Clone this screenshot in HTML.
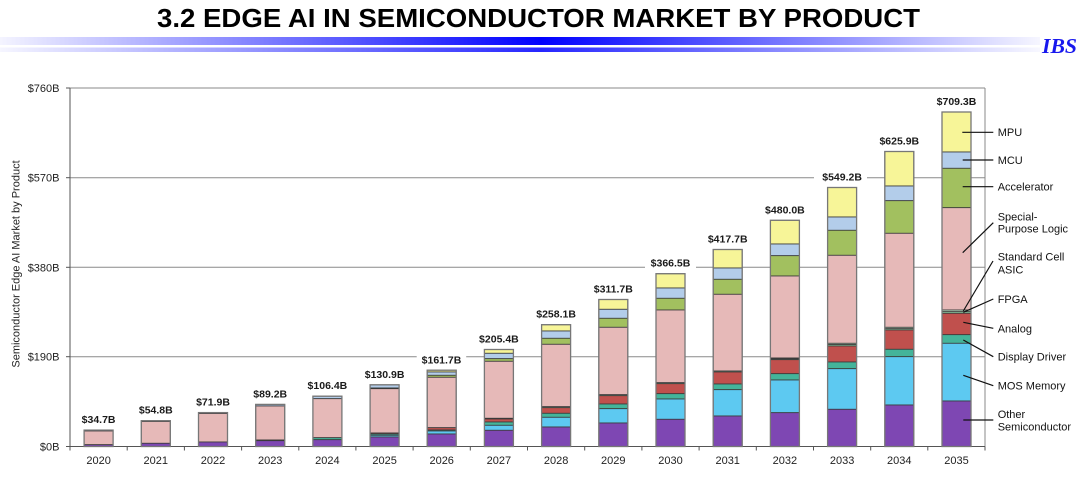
<!DOCTYPE html>
<html><head><meta charset="utf-8"><style>
html,body{margin:0;padding:0;background:#fff;}
svg{display:block;}
.o{fill:#7E47B3}.m{fill:#5DC9F1}.d{fill:#44B49A}.a{fill:#C0504D}.f{fill:#8ED1A4}.s{fill:#C4E3C8}.p{fill:#E6B9B8}.c{fill:#A2C05F}.u{fill:#B3CDEA}.x{fill:#F7F598}
.bars rect{stroke:#3a3a3a;stroke-width:0.8}
.outl rect{fill:none;stroke:#777;stroke-width:1.3}
.yl{font-family:"Liberation Sans",Arial,sans-serif;font-size:11px;fill:#222;text-anchor:end}
.xl{font-family:"Liberation Sans",Arial,sans-serif;font-size:11px;fill:#222;text-anchor:middle}
.vl{font-family:"Liberation Sans",Arial,sans-serif;font-size:10.5px;font-weight:bold;fill:#1a1a1a;text-anchor:middle}
.lg{font-family:"Liberation Sans",Arial,sans-serif;font-size:11px;fill:#111}
</style></head><body>
<svg width="1080" height="481" viewBox="0 0 1080 481" xmlns="http://www.w3.org/2000/svg">
<defs>
<linearGradient id="gb" x1="0" x2="1040" y1="0" y2="0" gradientUnits="userSpaceOnUse">
<stop offset="0" stop-color="#f4f4ff"/>
<stop offset="0.52" stop-color="#0000ff"/>
<stop offset="1" stop-color="#f6f6ff"/>
</linearGradient>
</defs>
<rect width="1080" height="481" fill="#fff"/>
<text x="157" y="27" font-family="'Liberation Sans',Arial,sans-serif" font-weight="bold" font-size="26" fill="#000" textLength="763" lengthAdjust="spacingAndGlyphs">3.2  EDGE AI IN SEMICONDUCTOR MARKET BY PRODUCT</text>
<rect x="0" y="37" width="1040" height="8" fill="url(#gb)"/>
<rect x="0" y="47.5" width="1040" height="4.5" fill="url(#gb)" opacity="0.85"/>
<text x="1042" y="53" font-family="'Liberation Serif','Times New Roman',serif" font-weight="bold" font-style="italic" font-size="21" fill="#1818ee" textLength="35" lengthAdjust="spacingAndGlyphs">IBS</text>

<!-- grid -->
<g stroke="#8a8a8a" stroke-width="1">
<line x1="70" y1="88" x2="985" y2="88"/>
<line x1="70" y1="177.7" x2="985" y2="177.7"/>
<line x1="70" y1="267.3" x2="985" y2="267.3"/>
<line x1="70" y1="356.7" x2="985" y2="356.7"/>
<line x1="985" y1="88" x2="985" y2="446.5"/>
</g>
<g stroke="#555" stroke-width="1">
<line x1="70" y1="88" x2="70" y2="446.5"/>
<line x1="70" y1="446.5" x2="985" y2="446.5"/>
<line x1="66" y1="88" x2="70" y2="88"/>
<line x1="66" y1="177.7" x2="70" y2="177.7"/>
<line x1="66" y1="267.3" x2="70" y2="267.3"/>
<line x1="66" y1="356.7" x2="70" y2="356.7"/>
<line x1="66" y1="446.5" x2="70" y2="446.5"/>
<line x1="70" y1="446.5" x2="70" y2="450.5"/>
<line x1="127.2" y1="446.5" x2="127.2" y2="450.5"/>
<line x1="184.4" y1="446.5" x2="184.4" y2="450.5"/>
<line x1="241.6" y1="446.5" x2="241.6" y2="450.5"/>
<line x1="298.8" y1="446.5" x2="298.8" y2="450.5"/>
<line x1="355.9" y1="446.5" x2="355.9" y2="450.5"/>
<line x1="413.1" y1="446.5" x2="413.1" y2="450.5"/>
<line x1="470.3" y1="446.5" x2="470.3" y2="450.5"/>
<line x1="527.5" y1="446.5" x2="527.5" y2="450.5"/>
<line x1="584.7" y1="446.5" x2="584.7" y2="450.5"/>
<line x1="641.9" y1="446.5" x2="641.9" y2="450.5"/>
<line x1="699.1" y1="446.5" x2="699.1" y2="450.5"/>
<line x1="756.3" y1="446.5" x2="756.3" y2="450.5"/>
<line x1="813.5" y1="446.5" x2="813.5" y2="450.5"/>
<line x1="870.7" y1="446.5" x2="870.7" y2="450.5"/>
<line x1="927.8" y1="446.5" x2="927.8" y2="450.5"/>
<line x1="985" y1="446.5" x2="985" y2="450.5"/>
</g>

<text class="yl" x="59.5" y="92">$760B</text>
<text class="yl" x="59.5" y="181.7">$570B</text>
<text class="yl" x="59.5" y="271.3">$380B</text>
<text class="yl" x="59.5" y="360.7">$190B</text>
<text class="yl" x="59.5" y="450.5">$0B</text>
<text transform="translate(19.5,264) rotate(-90)" font-family="'Liberation Sans',Arial,sans-serif" font-size="11" fill="#222" text-anchor="middle">Semiconductor Edge AI Market by Product</text>

<g class="bars">
<!-- 2020 -->
<rect class="u" x="84.1" y="430.1" width="29" height="0.9"/>
<rect class="p" x="84.1" y="431" width="29" height="13.7"/>
<rect class="o" x="84.1" y="444.7" width="29" height="1.8"/>
<!-- 2021 -->
<rect class="u" x="141.3" y="420.7" width="29" height="0.8"/>
<rect class="p" x="141.3" y="421.5" width="29" height="21.8"/>
<rect class="o" x="141.3" y="443.3" width="29" height="3.2"/>
<!-- 2022 -->
<rect class="u" x="198.5" y="412.6" width="29" height="0.9"/>
<rect class="p" x="198.5" y="413.5" width="29" height="28.5"/>
<rect class="o" x="198.5" y="442" width="29" height="4.5"/>
<!-- 2023 -->
<rect class="u" x="255.7" y="404.4" width="29" height="1.6"/>
<rect class="p" x="255.7" y="406" width="29" height="34"/>
<rect class="d" x="255.7" y="440" width="29" height="0.7"/>
<rect class="o" x="255.7" y="440.7" width="29" height="5.8"/>
<!-- 2024 -->
<rect class="u" x="312.9" y="396.2" width="29" height="2.5"/>
<rect class="p" x="312.9" y="398.7" width="29" height="39"/>
<rect class="d" x="312.9" y="437.7" width="29" height="2"/>
<rect class="o" x="312.9" y="439.7" width="29" height="6.8"/>
<!-- 2025 -->
<rect class="u" x="370.1" y="384.8" width="29" height="3.2"/>
<rect class="c" x="370.1" y="388" width="29" height="0.7"/>
<rect class="p" x="370.1" y="388.7" width="29" height="44.3"/>
<rect class="a" x="370.1" y="433" width="29" height="1"/>
<rect class="d" x="370.1" y="434" width="29" height="1.3"/>
<rect class="m" x="370.1" y="435.3" width="29" height="1.7"/>
<rect class="o" x="370.1" y="437" width="29" height="9.5"/>
<!-- 2026 -->
<rect class="x" x="427.2" y="370.2" width="29" height="1.8"/>
<rect class="u" x="427.2" y="372" width="29" height="3.3"/>
<rect class="c" x="427.2" y="375.3" width="29" height="2"/>
<rect class="p" x="427.2" y="377.3" width="29" height="50.4"/>
<rect class="a" x="427.2" y="427.7" width="29" height="2.3"/>
<rect class="d" x="427.2" y="430" width="29" height="1"/>
<rect class="m" x="427.2" y="431" width="29" height="3"/>
<rect class="o" x="427.2" y="434" width="29" height="12.5"/>
<!-- 2027 -->
<rect class="x" x="484.4" y="349.5" width="29" height="3.8"/>
<rect class="u" x="484.4" y="353.3" width="29" height="5.4"/>
<rect class="c" x="484.4" y="358.7" width="29" height="2.6"/>
<rect class="p" x="484.4" y="361.3" width="29" height="57"/>
<rect class="f" x="484.4" y="418.3" width="29" height="0.7"/>
<rect class="a" x="484.4" y="419" width="29" height="3"/>
<rect class="d" x="484.4" y="422" width="29" height="3.3"/>
<rect class="m" x="484.4" y="425.3" width="29" height="5"/>
<rect class="o" x="484.4" y="430.3" width="29" height="16.2"/>
<!-- 2028 -->
<rect class="x" x="541.6" y="324.7" width="29" height="6.3"/>
<rect class="u" x="541.6" y="331" width="29" height="7.3"/>
<rect class="c" x="541.6" y="338.3" width="29" height="6"/>
<rect class="p" x="541.6" y="344.3" width="29" height="62.4"/>
<rect class="f" x="541.6" y="406.7" width="29" height="1"/>
<rect class="a" x="541.6" y="407.7" width="29" height="5.6"/>
<rect class="d" x="541.6" y="413.3" width="29" height="4"/>
<rect class="m" x="541.6" y="417.3" width="29" height="9.7"/>
<rect class="o" x="541.6" y="427" width="29" height="19.5"/>
<!-- 2029 -->
<rect class="x" x="598.8" y="299.5" width="29" height="9.8"/>
<rect class="u" x="598.8" y="309.3" width="29" height="9"/>
<rect class="c" x="598.8" y="318.3" width="29" height="9"/>
<rect class="p" x="598.8" y="327.3" width="29" height="67.4"/>
<rect class="f" x="598.8" y="394.7" width="29" height="1"/>
<rect class="a" x="598.8" y="395.7" width="29" height="8.3"/>
<rect class="d" x="598.8" y="404" width="29" height="4.7"/>
<rect class="m" x="598.8" y="408.7" width="29" height="14.3"/>
<rect class="o" x="598.8" y="423" width="29" height="23.5"/>
<!-- 2030 -->
<rect class="x" x="656" y="273.7" width="29" height="14.3"/>
<rect class="u" x="656" y="288" width="29" height="10.3"/>
<rect class="c" x="656" y="298.3" width="29" height="11.7"/>
<rect class="p" x="656" y="310" width="29" height="72.7"/>
<rect class="f" x="656" y="382.7" width="29" height="1"/>
<rect class="a" x="656" y="383.7" width="29" height="10"/>
<rect class="d" x="656" y="393.7" width="29" height="5.3"/>
<rect class="m" x="656" y="399" width="29" height="20.3"/>
<rect class="o" x="656" y="419.3" width="29" height="27.2"/>
<!-- 2031 -->
<rect class="x" x="713.2" y="249.5" width="29" height="18.5"/>
<rect class="u" x="713.2" y="268" width="29" height="11.3"/>
<rect class="c" x="713.2" y="279.3" width="29" height="15"/>
<rect class="p" x="713.2" y="294.3" width="29" height="76.7"/>
<rect class="f" x="713.2" y="371" width="29" height="1"/>
<rect class="a" x="713.2" y="372" width="29" height="12"/>
<rect class="d" x="713.2" y="384" width="29" height="5.7"/>
<rect class="m" x="713.2" y="389.7" width="29" height="26.3"/>
<rect class="o" x="713.2" y="416" width="29" height="30.5"/>
<!-- 2032 -->
<rect class="x" x="770.4" y="220.3" width="29" height="23.7"/>
<rect class="u" x="770.4" y="244" width="29" height="11.7"/>
<rect class="c" x="770.4" y="255.7" width="29" height="20.3"/>
<rect class="p" x="770.4" y="276" width="29" height="82"/>
<rect class="s" x="770.4" y="358" width="29" height="0.8"/>
<rect class="f" x="770.4" y="358.8" width="29" height="0.9"/>
<rect class="a" x="770.4" y="359.7" width="29" height="14"/>
<rect class="d" x="770.4" y="373.7" width="29" height="6.3"/>
<rect class="m" x="770.4" y="380" width="29" height="32.7"/>
<rect class="o" x="770.4" y="412.7" width="29" height="33.8"/>
<!-- 2033 -->
<rect class="x" x="827.6" y="187.5" width="29" height="29.5"/>
<rect class="u" x="827.6" y="217" width="29" height="13.3"/>
<rect class="c" x="827.6" y="230.3" width="29" height="25"/>
<rect class="p" x="827.6" y="255.3" width="29" height="88"/>
<rect class="s" x="827.6" y="343.3" width="29" height="1.2"/>
<rect class="f" x="827.6" y="344.5" width="29" height="1.5"/>
<rect class="a" x="827.6" y="346" width="29" height="16"/>
<rect class="d" x="827.6" y="362" width="29" height="6.7"/>
<rect class="m" x="827.6" y="368.7" width="29" height="40.6"/>
<rect class="o" x="827.6" y="409.3" width="29" height="37.2"/>
<!-- 2034 -->
<rect class="x" x="884.8" y="151.5" width="29" height="34.5"/>
<rect class="u" x="884.8" y="186" width="29" height="14.7"/>
<rect class="c" x="884.8" y="200.7" width="29" height="32.6"/>
<rect class="p" x="884.8" y="233.3" width="29" height="94"/>
<rect class="s" x="884.8" y="327.3" width="29" height="1.4"/>
<rect class="f" x="884.8" y="328.7" width="29" height="1.3"/>
<rect class="a" x="884.8" y="330" width="29" height="19.3"/>
<rect class="d" x="884.8" y="349.3" width="29" height="7.4"/>
<rect class="m" x="884.8" y="356.7" width="29" height="48.3"/>
<rect class="o" x="884.8" y="405" width="29" height="41.5"/>
<!-- 2035 -->
<rect class="x" x="942" y="112" width="29" height="40"/>
<rect class="u" x="942" y="152" width="29" height="16.3"/>
<rect class="c" x="942" y="168.3" width="29" height="39.4"/>
<rect class="p" x="942" y="207.7" width="29" height="102.3"/>
<rect class="s" x="942" y="310" width="29" height="1.7"/>
<rect class="f" x="942" y="311.7" width="29" height="1.6"/>
<rect class="a" x="942" y="313.3" width="29" height="21.4"/>
<rect class="d" x="942" y="334.7" width="29" height="8.6"/>
<rect class="m" x="942" y="343.3" width="29" height="57.7"/>
<rect class="o" x="942" y="401" width="29" height="45.5"/>
</g>
<g class="outl">
<rect x="84.1" y="430.1" width="29" height="16.4"/>
<rect x="141.3" y="420.7" width="29" height="25.8"/>
<rect x="198.5" y="412.6" width="29" height="33.9"/>
<rect x="255.7" y="404.4" width="29" height="42.1"/>
<rect x="312.9" y="396.2" width="29" height="50.3"/>
<rect x="370.1" y="384.8" width="29" height="61.7"/>
<rect x="427.2" y="370.2" width="29" height="76.3"/>
<rect x="484.4" y="349.5" width="29" height="97"/>
<rect x="541.6" y="324.7" width="29" height="121.8"/>
<rect x="598.8" y="299.5" width="29" height="147"/>
<rect x="656" y="273.7" width="29" height="172.8"/>
<rect x="713.2" y="249.5" width="29" height="197"/>
<rect x="770.4" y="220.3" width="29" height="226.2"/>
<rect x="827.6" y="187.5" width="29" height="259"/>
<rect x="884.8" y="151.5" width="29" height="295"/>
<rect x="942" y="112" width="29" height="334.5"/>
</g>

<!-- value labels -->
<g>
<rect x="416.7" y="352.5" width="49.5" height="13" fill="#fff"/>
<rect x="645" y="256" width="51" height="13" fill="#fff"/>
<rect x="814" y="170" width="53" height="13" fill="#fff"/>
</g>
<text class="vl" x="98.6" y="423.1">$34.7B</text>
<text class="vl" x="155.8" y="413.7">$54.8B</text>
<text class="vl" x="213" y="405.6">$71.9B</text>
<text class="vl" x="270.2" y="397.4">$89.2B</text>
<text class="vl" x="327.4" y="389.2">$106.4B</text>
<text class="vl" x="384.6" y="377.8">$130.9B</text>
<text class="vl" x="441.5" y="363.3">$161.7B</text>
<text class="vl" x="498.9" y="342.5">$205.4B</text>
<text class="vl" x="556.1" y="317.7">$258.1B</text>
<text class="vl" x="613.3" y="292.5">$311.7B</text>
<text class="vl" x="670.5" y="266.7">$366.5B</text>
<text class="vl" x="727.7" y="242.5">$417.7B</text>
<text class="vl" x="784.9" y="213.3">$480.0B</text>
<text class="vl" x="842.1" y="180.5">$549.2B</text>
<text class="vl" x="899.3" y="144.5">$625.9B</text>
<text class="vl" x="956.5" y="105">$709.3B</text>

<!-- year labels -->
<text class="xl" x="98.6" y="464">2020</text>
<text class="xl" x="155.8" y="464">2021</text>
<text class="xl" x="213" y="464">2022</text>
<text class="xl" x="270.2" y="464">2023</text>
<text class="xl" x="327.4" y="464">2024</text>
<text class="xl" x="384.6" y="464">2025</text>
<text class="xl" x="441.7" y="464">2026</text>
<text class="xl" x="498.9" y="464">2027</text>
<text class="xl" x="556.1" y="464">2028</text>
<text class="xl" x="613.3" y="464">2029</text>
<text class="xl" x="670.5" y="464">2030</text>
<text class="xl" x="727.7" y="464">2031</text>
<text class="xl" x="784.9" y="464">2032</text>
<text class="xl" x="842.1" y="464">2033</text>
<text class="xl" x="899.3" y="464">2034</text>
<text class="xl" x="956.5" y="464">2035</text>

<!-- legend leaders -->
<g stroke="#111" stroke-width="1.2">
<line x1="962.3" y1="132.3" x2="993.3" y2="132.3"/>
<line x1="962.7" y1="160" x2="993.3" y2="160"/>
<line x1="962.7" y1="186.7" x2="993.3" y2="186.7"/>
<line x1="962.7" y1="252.7" x2="993.3" y2="222.7"/>
<line x1="963.3" y1="311" x2="993" y2="261"/>
<line x1="963.3" y1="312.3" x2="993.3" y2="299"/>
<line x1="963.3" y1="322.3" x2="993.3" y2="328.3"/>
<line x1="963.3" y1="340" x2="993.3" y2="356.7"/>
<line x1="963.3" y1="375.3" x2="993.3" y2="385.7"/>
<line x1="963.3" y1="420" x2="993.3" y2="420"/>
</g>
<text class="lg" x="997.7" y="136">MPU</text>
<text class="lg" x="997.7" y="164">MCU</text>
<text class="lg" x="997.7" y="190.7">Accelerator</text>
<text class="lg" x="997.7" y="220.7">Special-</text>
<text class="lg" x="997.7" y="232.5">Purpose Logic</text>
<text class="lg" x="997.7" y="260.7">Standard Cell</text>
<text class="lg" x="997.7" y="273.5">ASIC</text>
<text class="lg" x="997.7" y="303">FPGA</text>
<text class="lg" x="997.7" y="332.3">Analog</text>
<text class="lg" x="997.7" y="360.7">Display Driver</text>
<text class="lg" x="997.7" y="389.7">MOS Memory</text>
<text class="lg" x="997.7" y="418">Other</text>
<text class="lg" x="997.7" y="430.7">Semiconductor</text>
</svg>
</body></html>
